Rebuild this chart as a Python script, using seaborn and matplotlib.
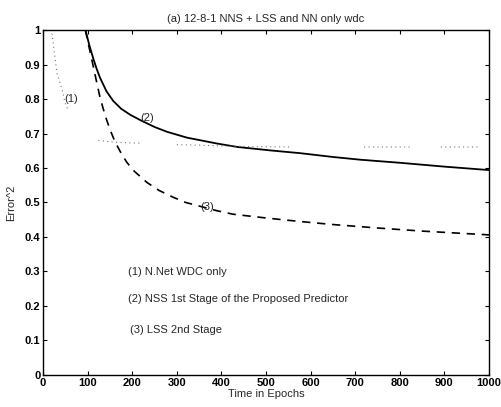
import numpy as np
import pandas as pd
import matplotlib
matplotlib.use("Agg")
import matplotlib.pyplot as plt
import seaborn as sns

# Series (2): NSS 1st stage (solid)
nss_x = [95, 104, 112, 120, 128, 142, 157, 175, 196, 218, 250, 278, 323, 390, 436, 510, 577, 650, 712, 802, 900, 1000]
nss_y = [1.0, 0.955, 0.920, 0.888, 0.861, 0.823, 0.795, 0.772, 0.754, 0.739, 0.719, 0.705, 0.688, 0.671, 0.661, 0.651, 0.643, 0.632, 0.624, 0.615, 0.604, 0.594]

# Series (3): LSS 2nd stage (dashed)
lss_x = [95, 102, 110, 120, 128, 140, 150, 161, 175, 188, 205, 233, 260, 292, 320, 352, 390, 426, 500, 575, 650, 750, 850, 1000]
lss_y = [1.0, 0.957, 0.910, 0.850, 0.803, 0.749, 0.712, 0.677, 0.643, 0.616, 0.590, 0.558, 0.535, 0.515, 0.500, 0.489, 0.476, 0.466, 0.455, 0.445, 0.436, 0.426, 0.417, 0.406]

# Series (1): N.Net WDC only (faint dotted, with gaps)
wdc_x = [20, 31, 43, 49, 56, 62, 124, 150, 173, 218, 260, 300, 353, 427, 470, 555, 600, 720, 760, 825, 850, 892, 975]
wdc_y = [0.99, 0.875, 0.826, 0.79, 0.768, np.nan, 0.680, 0.676, 0.674, 0.672, np.nan, 0.668, 0.666, 0.663, 0.662, 0.661, np.nan, 0.661, 0.661, 0.661, np.nan, 0.661, 0.661]

xticks = list(range(0, 1001, 100))
yticks = [round(0.1 * i, 1) for i in range(11)]
ytick_labels = ["0", "0.1", "0.2", "0.3", "0.4", "0.5", "0.6", "0.7", "0.8", "0.9", "1"]

sns.set_style("ticks")
plt.rcParams['font.family'] = ['Liberation Sans', 'DejaVu Sans']

fig = plt.figure(figsize=(5.01, 4.07), dpi=100)
ax = fig.add_axes([0.086, 0.079, 0.89, 0.847])

df_nss = pd.DataFrame({"x": nss_x, "y": nss_y})
df_lss = pd.DataFrame({"x": lss_x, "y": lss_y})
df_wdc = pd.DataFrame({"x": wdc_x, "y": wdc_y})

sns.lineplot(data=df_nss, x="x", y="y", ax=ax, color="black", linewidth=1.3, sort=False)
sns.lineplot(data=df_lss, x="x", y="y", ax=ax, color="black", linewidth=1.2,
             linestyle=(0, (5, 4)), sort=False)
ax.plot(df_wdc["x"], df_wdc["y"], color="#777777", linewidth=0.8, linestyle=(0, (1, 3)))

ax.set_xlim(0, 1000)
ax.set_ylim(0, 1)
ax.set_xticks(xticks)
ax.set_yticks(yticks)
ax.set_yticklabels(ytick_labels)
ax.tick_params(direction="in", top=True, right=True, length=3, width=0.8,
               labelsize=8, pad=2, colors="black")
for lab in ax.get_xticklabels() + ax.get_yticklabels():
    lab.set_fontweight("bold")
for sp in ax.spines.values():
    sp.set_linewidth(1.0)
    sp.set_color("black")

ax.set_xlabel("Time in Epochs", fontsize=8, labelpad=1)
ax.set_ylabel("Error^2", fontsize=8, labelpad=6)
ax.set_title("(a) 12-8-1 NNS + LSS and NN only wdc", fontsize=8, pad=6)

ax.text(47, 0.80, "(1)", fontsize=8, va="center")
ax.text(218, 0.745, "(2)", fontsize=8, va="center")
ax.text(352, 0.487, "(3)", fontsize=8, va="center")

ax.text(191, 0.298, "(1) N.Net WDC only", fontsize=8, va="center")
ax.text(191, 0.220, "(2) NSS 1st Stage of the Proposed Predictor", fontsize=8, va="center")
ax.text(196, 0.130, "(3) LSS 2nd Stage", fontsize=8, va="center")

fig.savefig("out.png", dpi=100)
